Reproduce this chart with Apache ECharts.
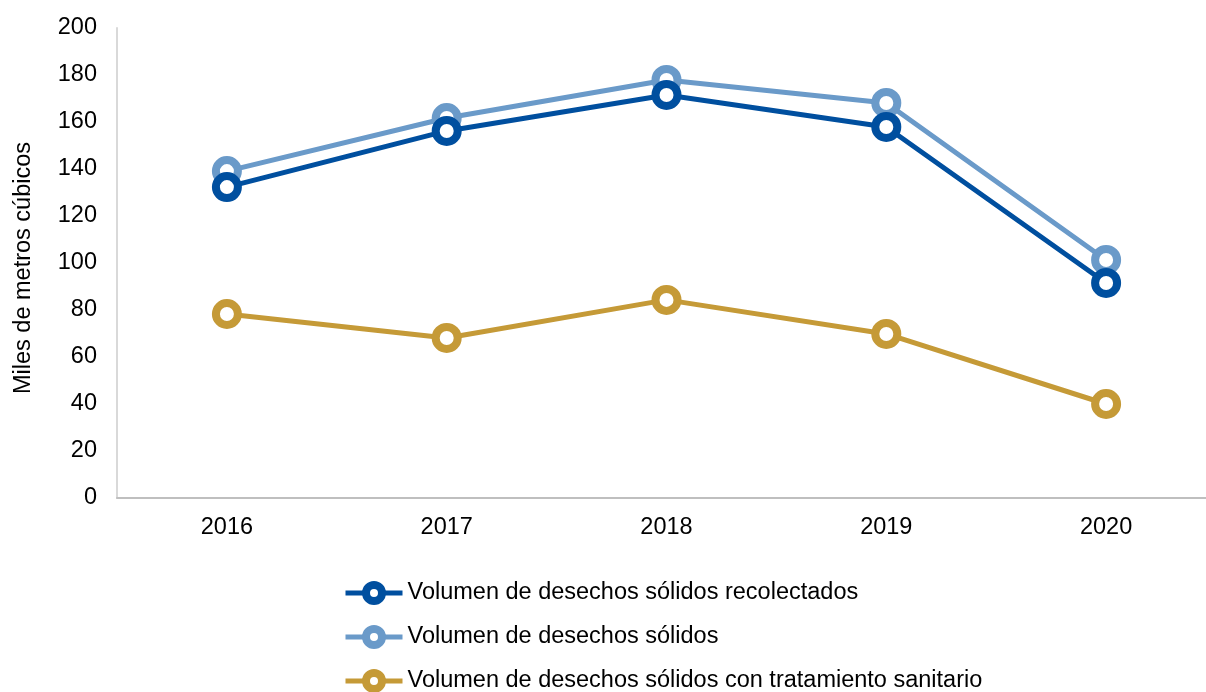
<!DOCTYPE html>
<html lang="es">
<head>
<meta charset="UTF-8">
<title>Desechos sólidos</title>
<script src="https://cdn.jsdelivr.net/npm/echarts@6/dist/echarts.min.js"></script>
<style>
  html, body { margin: 0; padding: 0; background: #fff; }
  #chart { width: 1206px; height: 692px; }
</style>
</head>
<body>
<div id="chart"></div>
<script>
var years = ['2016', '2017', '2018', '2019', '2020'];
var recolectados = [132.3, 156.2, 171.5, 157.9, 91.5];
var solidos = [139.1, 161.7, 177.9, 168.1, 101.3];
var tratamiento = [78.3, 68.1, 84.3, 69.8, 40.0];

var names = [
  'Volumen de desechos sólidos recolectados',
  'Volumen de desechos sólidos',
  'Volumen de desechos sólidos con tratamiento sanitario'
];
var colors = ['#004f9f', '#6a9ac9', '#c59a37'];
var FS = 23.5;

function mk(i, data) {
  return {
    name: names[i],
    type: 'line',
    data: data,
    symbol: 'circle',
    symbolSize: 22,
    lineStyle: { width: 5, color: colors[i] },
    itemStyle: { color: '#fff', borderColor: colors[i], borderWidth: 8 },
    z: 10 - i
  };
}

// one legend per row so they stack like the original
function lg(i, top) {
  return {
    left: 343,
    top: top,
    padding: 0,
    itemWidth: 57,
    itemHeight: 20,
    textStyle: { fontSize: FS, color: '#000' },
    data: [{
      name: names[i],
      itemStyle: { color: '#fff', borderColor: colors[i], borderWidth: 8 },
      lineStyle: { width: 5, color: colors[i] }
    }]
  };
}

var chart = echarts.init(document.getElementById('chart'));
chart.setOption({
  animation: false,
  textStyle: { fontFamily: 'Liberation Sans, Arial, sans-serif' },
  grid: { left: 117, right: -10, top: 28, bottom: 194, containLabel: false, outerBoundsMode: 'none' },
  legend: [lg(0, 581), lg(1, 625), lg(2, 669)],
  xAxis: {
    type: 'category',
    data: years,
    boundaryGap: true,
    axisLine: { lineStyle: { color: '#bfbfbf', width: 2 } },
    axisTick: { show: false },
    axisLabel: { fontSize: FS, color: '#000', margin: 18 }
  },
  yAxis: {
    type: 'value',
    min: 0,
    max: 200,
    interval: 20,
    name: 'Miles de metros cúbicos',
    nameLocation: 'middle',
    nameGap: 81,
    nameTextStyle: { fontSize: FS, color: '#000', padding: [0, 0, 0, -10] },
    axisLine: { show: true, lineStyle: { color: '#d9d9d9', width: 2 } },
    axisTick: { show: false },
    splitLine: { show: false },
    axisLabel: { fontSize: FS, color: '#000', margin: 20 }
  },
  series: [mk(0, recolectados), mk(1, solidos), mk(2, tratamiento)]
});
</script>
</body>
</html>
